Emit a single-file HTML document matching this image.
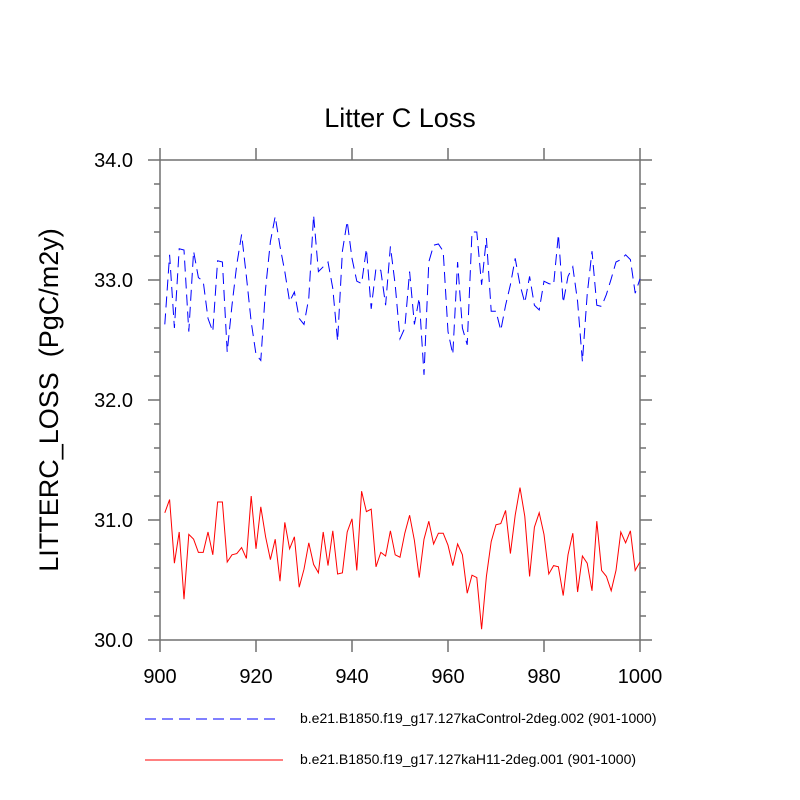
<!DOCTYPE html>
<html><head><meta charset="utf-8"><style>
html,body{margin:0;padding:0;background:#fff;}
svg{display:block;font-family:"Liberation Sans",Arial,sans-serif;}
</style></head><body>
<svg id="chart" width="800" height="800" viewBox="0 0 800 800">
<rect width="800" height="800" fill="#fff"/>
<text x="400" y="127" font-size="27" text-anchor="middle">Litter C Loss</text>
<text transform="translate(58,400) rotate(-90)" font-size="27" text-anchor="middle" style="white-space:pre">LITTERC_LOSS  (PgC/m2y)</text>
<g id="axes"></g>
<g id="series"></g>
<g>
<line x1="145" y1="719" x2="277" y2="719" stroke="#0000ff" stroke-width="1" stroke-dasharray="11 6"/>
<text x="300" y="723" font-size="14">b.e21.B1850.f19_g17.127kaControl-2deg.002 (901-1000)</text>
<line x1="145" y1="760" x2="283" y2="760" stroke="#ff0000" stroke-width="1"/>
<text x="300" y="764" font-size="14">b.e21.B1850.f19_g17.127kaH11-2deg.001 (901-1000)</text>
</g>
</svg>
<script>
const years = Array.from({length:100},(_, i)=>901+i);
const controlValues = [32.63,33.21,32.60,33.26,33.25,32.57,33.24,33.02,32.99,32.68,32.57,33.16,33.15,32.40,32.79,33.13,33.38,33.03,32.65,32.38,32.33,32.93,33.32,33.53,33.28,33.07,
32.82,32.90,32.68,32.63,32.85,33.54,33.07,33.11,33.15,32.93,32.49,33.24,33.49,33.18,32.99,32.97,33.26,32.76,33.10,33.08,32.79,33.28,32.96,32.51,
32.60,33.07,32.63,32.85,32.21,33.15,33.29,33.30,33.24,32.57,32.38,33.15,32.60,32.46,33.40,33.40,32.96,33.35,32.74,32.74,32.58,32.79,32.96,33.18,32.96,32.81,
33.03,32.79,32.75,32.99,32.97,32.96,33.38,32.81,33.03,33.11,32.82,32.32,32.88,33.24,32.79,32.78,32.88,33.01,33.15,33.17,33.21,33.17,32.89,33.01];
const h11Values = [31.06,31.17,30.64,30.90,30.34,30.88,30.84,30.73,30.73,30.90,30.71,31.15,31.15,30.65,30.71,30.72,30.77,30.68,31.20,30.76,31.11,30.86,30.67,30.84,30.49,30.98,30.76,30.86,30.44,30.59,30.81,30.63,30.56,30.90,30.62,30.91,30.55,30.56,30.90,31.01,30.58,31.24,31.07,31.09,30.61,30.73,30.70,30.91,30.71,
30.69,30.89,31.04,30.83,30.52,30.84,30.99,30.80,30.89,30.89,30.79,30.62,30.80,30.71,30.39,30.54,30.52,30.09,30.53,30.82,30.96,30.97,31.08,30.72,31.04,31.27,31.03,30.53,30.94,31.06,30.88,30.55,30.62,30.61,30.37,30.71,30.89,30.40,30.70,30.64,30.41,30.99,30.58,30.53,30.41,30.58,30.90,30.81,30.91,30.58,30.65];
const xTicks = [900,920,940,960,980,1000];
const yTicks = [30.0,31.0,32.0,33.0,34.0];
const yTickLabels = ["30.0","31.0","32.0","33.0","34.0"];

const NS="http://www.w3.org/2000/svg";
const L=160,R=640,T=160,B=640;
const xMin=900,xMax=1000,yMin=30,yMax=34;
const sx=v=>L+(v-xMin)/(xMax-xMin)*(R-L);
const sy=v=>B-(v-yMin)/(yMax-yMin)*(B-T);
function mk(tag,attrs,parent){const e=document.createElementNS(NS,tag);for(const k in attrs)e.setAttribute(k,attrs[k]);parent.appendChild(e);return e;}
const axes=document.getElementById('axes');
const ac="#707070";
const frame=mk('rect',{x:L,y:T,width:R-L,height:B-T,fill:'none',stroke:ac,'stroke-width':1.5},axes);


xTicks.forEach(t=>{
  const x=sx(t);
  const a=mk('line',{x1:x,y1:B,x2:x,y2:B+12,stroke:ac,'stroke-width':1.5},axes);
  
  
  const b=mk('line',{x1:x,y1:T,x2:x,y2:T-12,stroke:ac,'stroke-width':1.5},axes);
  
  
  const tx=mk('text',{x:x,y:B+43,'font-size':20,'text-anchor':'middle'},axes);
  tx.textContent=String(t);
  
  
});
for(let v=yMin;v<=yMax+1e-9;v+=0.2){
  const y=sy(v);const major=Math.abs(v-Math.round(v))<1e-6;const len=major?12:6;
  const a=mk('line',{x1:L,y1:y,x2:L-len,y2:y,stroke:ac,'stroke-width':1.5},axes);
  
  
  const b=mk('line',{x1:R,y1:y,x2:R+len,y2:y,stroke:ac,'stroke-width':1.5},axes);
  
  
}
yTicks.forEach((t,i)=>{
  const tx=mk('text',{x:L-27,y:sy(t)+7,'font-size':20,'text-anchor':'end'},axes);
  tx.textContent=yTickLabels[i];
  
  
});
const series=document.getElementById('series');
const pts=vals=>vals.map((v,i)=>sx(years[i]).toFixed(1)+','+sy(v).toFixed(1)).join(' ');
const c=mk('polyline',{points:pts(controlValues),fill:'none',stroke:'#0000ff','stroke-width':1,'stroke-dasharray':'11 6'},series);


const h=mk('polyline',{points:pts(h11Values),fill:'none',stroke:'#ff0000','stroke-width':1},series);


</script>
</body></html>
